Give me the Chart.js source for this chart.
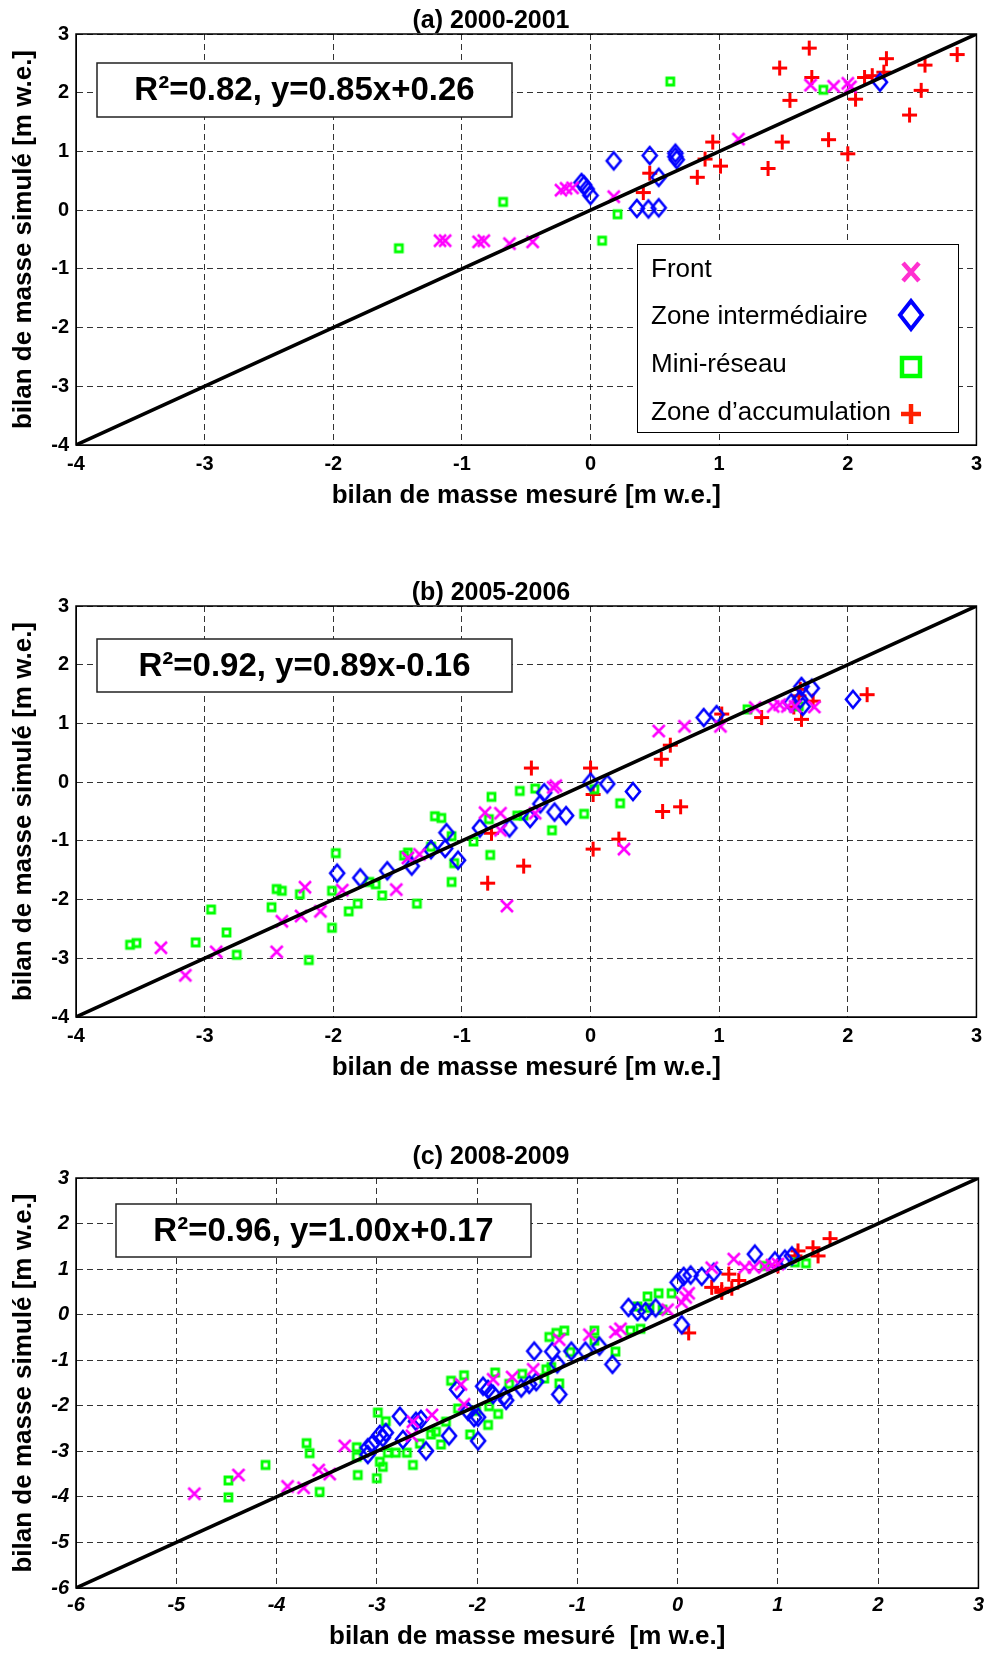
<!DOCTYPE html>
<html>
<head>
<meta charset="utf-8">
<script src="https://cdn.jsdelivr.net/npm/chart.js@4.4.1/dist/chart.umd.min.js"></script>
<style>
  body { margin: 0; background: #fff; width: 989px; height: 1654px; position: relative; overflow: hidden; }
  canvas { position: absolute; left: 0; }
</style>
</head>
<body>
<canvas id="chartA" width="989" height="520" style="top:0px"></canvas>
<canvas id="chartB" width="989" height="520" style="top:572px"></canvas>
<canvas id="chartC" width="989" height="524" style="top:1130px"></canvas>
<script>
// values: [mesuré, simulé] in m w.e.

// (a) 2000-2001
const frontA = [[-1.17,-0.52],[-1.13,-0.52],[-0.87,-0.54],[-0.83,-0.52],[-0.63,-0.57],[-0.45,-0.54],
  [-0.23,0.34],[-0.19,0.37],[-0.14,0.38],[0.18,0.23],[1.15,1.21],[1.71,2.13],[1.89,2.11],[2.0,2.16],[2.02,2.10]];
const interA = [[-0.07,0.47],[-0.05,0.43],[-0.03,0.36],[0.0,0.25],[0.18,0.84],[0.46,0.93],[0.66,0.97],
  [0.66,0.91],[0.67,0.86],[0.53,0.56],[0.36,0.03],[0.45,0.02],[0.53,0.04],[2.25,2.18]];
const miniA = [[-1.49,-0.65],[-0.68,0.14],[0.09,-0.52],[0.21,-0.07],[0.62,2.19],[1.81,2.05]];
const accA = [[0.41,0.30],[0.46,0.63],[0.83,0.56],[0.89,0.87],[0.95,1.16],[1.01,0.75],[1.38,0.71],
  [1.49,1.16],[1.47,2.42],[1.55,1.87],[1.70,2.76],[1.72,2.26],[1.85,1.20],[2.0,0.96],[2.06,1.89],
  [2.13,2.26],[2.19,2.29],[2.28,2.35],[2.30,2.58],[2.48,1.62],[2.57,2.04],[2.60,2.47],[2.85,2.65]];

// (b) 2005-2006
const frontB = [[-3.34,-2.82],[-3.15,-3.29],[-2.91,-2.89],[-2.44,-2.89],[-2.40,-2.37],[-2.25,-2.28],
  [-2.22,-1.79],[-2.10,-2.20],[-1.93,-1.84],[-1.51,-1.83],[-1.42,-1.29],[-1.33,-1.23],[-0.82,-0.52],
  [-0.70,-0.53],[-0.70,-0.82],[-0.43,-0.53],[-0.29,-0.09],[-0.27,-0.06],[-0.65,-2.11],[0.26,-1.14],
  [0.53,0.87],[0.73,0.95],[1.01,0.95],[1.28,1.27],[1.42,1.29],[1.47,1.32],[1.53,1.29],[1.59,1.29],[1.74,1.28]];
const interB = [[-1.97,-1.55],[-1.79,-1.63],[-1.58,-1.51],[-1.39,-1.43],[-1.24,-1.15],[-1.13,-1.13],
  [-1.12,-0.86],[-1.03,-1.33],[-0.86,-0.78],[-0.63,-0.78],[-0.47,-0.62],[-0.39,-0.37],[-0.36,-0.18],
  [-0.28,-0.51],[-0.19,-0.57],[0.0,0.0],[0.13,-0.03],[0.33,-0.16],[0.88,1.10],[0.98,1.15],[1.56,1.35],
  [1.63,1.41],[1.65,1.29],[1.64,1.63],[1.72,1.60],[2.04,1.41]];
const miniB = [[-3.58,-2.77],[-3.53,-2.74],[-3.07,-2.73],[-2.95,-2.17],[-2.83,-2.56],[-2.75,-2.94],
  [-2.48,-2.13],[-2.44,-1.82],[-2.40,-1.85],[-2.26,-1.91],[-2.19,-3.03],[-2.01,-1.85],[-2.01,-2.48],
  [-1.98,-1.21],[-1.88,-2.20],[-1.81,-2.07],[-1.72,-1.70],[-1.67,-1.74],[-1.62,-1.93],[-1.45,-1.25],
  [-1.42,-1.20],[-1.35,-2.07],[-1.24,-1.10],[-1.21,-0.58],[-1.16,-0.61],[-1.08,-0.92],[-1.06,-1.38],
  [-1.08,-1.70],[-0.91,-1.01],[-0.78,-1.24],[-0.77,-0.25],[-0.79,-0.63],[-0.55,-0.15],[-0.43,-0.11],
  [-0.57,-0.57],[-0.52,-0.57],[-0.30,-0.82],[-0.05,-0.54],[0.03,-0.12],[0.23,-0.36],[1.22,1.24],[1.62,1.29]];
const accB = [[-0.80,-1.72],[-0.77,-0.87],[-0.52,-1.43],[-0.46,0.24],[0.0,0.24],[0.02,-0.21],[0.02,-1.14],
  [0.22,-0.97],[0.55,0.39],[0.62,0.63],[0.56,-0.50],[0.70,-0.42],[1.02,1.16],[1.33,1.10],[1.58,1.28],
  [1.62,1.47],[1.63,1.58],[1.64,1.07],[1.73,1.38],[2.15,1.49]];

// (c) 2008-2009
const frontC = [[-4.82,-3.93],[-4.38,-3.52],[-3.89,-3.77],[-3.73,-3.80],[-3.58,-3.41],[-3.47,-3.50],
  [-3.32,-2.88],[-2.65,-2.66],[-2.64,-2.35],[-2.45,-2.20],[-2.16,-1.53],[-2.13,-1.97],[-1.84,-1.42],
  [-1.65,-1.37],[-1.44,-1.20],[-1.18,-0.55],[-0.88,-0.44],[-0.62,-0.38],[-0.57,-0.31],[-0.10,0.11],
  [0.04,0.27],[0.08,0.38],[0.11,0.47],[0.34,1.03],[0.56,1.22],[0.67,1.04],[0.76,1.04],[0.87,1.06],
  [0.94,1.09],[1.0,1.11]];
const interC = [[-3.09,-3.07],[-3.09,-2.92],[-3.05,-2.85],[-2.97,-2.63],[-2.94,-2.70],[-2.91,-2.59],
  [-2.77,-2.23],[-2.74,-2.74],[-2.61,-2.34],[-2.56,-2.30],[-2.51,-2.99],[-2.28,-2.66],[-2.20,-1.64],
  [-2.09,-2.12],[-2.03,-2.26],[-1.99,-2.77],[-1.99,-2.25],[-1.94,-1.57],[-1.89,-1.64],[-1.84,-1.75],
  [-1.73,-1.79],[-1.71,-1.88],[-1.56,-1.61],[-1.48,-1.53],[-1.41,-1.47],[-1.43,-0.80],[-1.25,-0.81],
  [-1.20,-1.08],[-1.18,-1.75],[-1.06,-0.80],[-0.92,-0.80],[-0.78,-0.69],[-0.65,-1.09],[-0.49,0.16],
  [-0.40,0.07],[-0.32,0.07],[-0.22,0.15],[0.04,-0.22],[0.0,0.71],[0.06,0.84],[0.13,0.87],[0.24,0.84],
  [0.36,0.93],[0.77,1.33],[0.97,1.18],[1.07,1.22],[1.14,1.29]];
const miniC = [[-4.48,-3.64],[-4.48,-4.01],[-4.11,-3.30],[-3.70,-2.82],[-3.67,-3.04],[-3.57,-3.89],
  [-3.20,-2.91],[-3.20,-3.12],[-3.19,-3.52],[-3.00,-3.59],[-2.99,-2.15],[-2.91,-2.34],[-2.97,-3.23],
  [-2.94,-3.34],[-2.89,-3.03],[-2.81,-3.03],[-2.70,-3.03],[-2.64,-3.30],[-2.57,-2.83],[-2.46,-2.63],
  [-2.41,-2.57],[-2.36,-2.85],[-2.31,-2.35],[-2.26,-1.45],[-2.13,-1.33],[-2.19,-2.06],[-2.07,-2.63],
  [-2.01,-2.11],[-1.89,-2.42],[-1.88,-2.01],[-1.79,-2.18],[-1.68,-1.52],[-1.55,-1.30],[-1.82,-1.27],
  [-1.31,-1.20],[-1.26,-1.15],[-1.33,-1.40],[-1.18,-1.51],[-1.28,-0.49],[-1.21,-0.40],[-1.13,-0.35],
  [-1.07,-0.82],[-0.83,-0.35],[-0.83,-0.57],[-0.62,-0.81],[-0.47,-0.35],[-0.37,-0.31],[-0.40,0.18],
  [-0.30,0.40],[-0.19,0.47],[-0.06,0.47],[-0.28,0.15],[-0.15,0.11],[0.87,1.07],[1.17,1.15],[1.28,1.13]];
const accC = [[0.11,-0.40],[0.34,0.60],[0.44,0.55],[0.54,0.58],[0.51,0.89],[0.61,0.75],[0.44,0.49],
  [1.0,1.07],[1.17,1.29],[1.20,1.40],[1.35,1.47],[1.40,1.29],[1.52,1.67]];

const seriesNames = ['Front', 'Zone intermédiaire', 'Mini-réseau', 'Zone d\u2019accumulation'];
const titles = ['(a) 2000-2001', '(b) 2005-2006', '(c) 2008-2009'];
const fits = ['R²=0.82, y=0.85x+0.26', 'R²=0.92, y=0.89x-0.16', 'R²=0.96, y=1.00x+0.17'];
const axisMin = [-4, -4, -6];
const axisMax = 3;

const FONT = '"Liberation Sans", Arial, Helvetica, sans-serif';
Chart.defaults.font.family = FONT;
Chart.defaults.color = '#000';

// marker images in the style of the matlab symbols
function marker(kind, w, h, lw, color) {
  const c = document.createElement('canvas');
  const pad = Math.ceil(lw);
  c.width = w + pad * 2;
  c.height = h + pad * 2;
  const g = c.getContext('2d');
  g.strokeStyle = color;
  g.lineWidth = lw;
  const x0 = pad, y0 = pad, x1 = pad + w, y1 = pad + h;
  const cx = c.width / 2, cy = c.height / 2;
  g.beginPath();
  if (kind === 'x') {
    g.moveTo(x0, y0); g.lineTo(x1, y1); g.moveTo(x1, y0); g.lineTo(x0, y1);
  } else if (kind === 'plus') {
    g.moveTo(cx, y0); g.lineTo(cx, y1); g.moveTo(x0, cy); g.lineTo(x1, cy);
  } else if (kind === 'diamond') {
    g.moveTo(cx, y0); g.lineTo(x1, cy); g.lineTo(cx, y1); g.lineTo(x0, cy); g.closePath();
  } else {
    g.rect(x0, y0, w, h);
  }
  g.stroke();
  return c;
}

const markers = [
  marker('x', 12, 12, 2.6, '#ff00ff'),
  marker('diamond', 14, 17, 2.6, '#0000ff'),
  marker('square', 7, 7, 2.8, '#00ff00'),
  marker('plus', 15, 15, 3, '#ff0000')
];
const legendMarkers = [
  marker('x', 16, 18, 4.5, '#ff30d0'),
  marker('diamond', 22, 28, 4, '#0000ff'),
  marker('square', 18, 18, 4.5, '#00ff00'),
  marker('plus', 20, 20, 4.5, '#ff2000')
];

const toXY = arr => arr.map(p => ({ x: p[0], y: p[1] }));

function makePanel(id, idx, series, layout) {
  const min = axisMin[idx];
  const tickFont = { size: 20, weight: 'bold', style: layout.italic ? 'italic' : 'normal' };

  const overlay = {
    id: 'overlay' + idx,
    beforeDatasetsDraw(chart) {
      const ctx = chart.ctx;
      const b = layout.box;
      ctx.save();
      ctx.fillStyle = '#fff';
      ctx.fillRect(b[0], b[1], b[2] - b[0], b[3] - b[1]);
      ctx.strokeStyle = '#222';
      ctx.lineWidth = 1.5;
      ctx.strokeRect(b[0], b[1], b[2] - b[0], b[3] - b[1]);
      ctx.fillStyle = '#000';
      ctx.font = 'bold 33px ' + FONT;
      ctx.textAlign = 'center';
      ctx.textBaseline = 'middle';
      ctx.fillText(fits[idx], (b[0] + b[2]) / 2, (b[1] + b[3]) / 2 + 1);
      ctx.restore();
    },
    afterDraw(chart) {
      const ctx = chart.ctx;
      const a = chart.chartArea;
      ctx.save();
      ctx.strokeStyle = '#000';
      ctx.lineWidth = 1.5;
      ctx.strokeRect(a.left, a.top, a.right - a.left, a.bottom - a.top);
      if (layout.legend) {
        const L = layout.legend;
        ctx.fillStyle = '#fff';
        ctx.fillRect(L.x0, L.y0, L.x1 - L.x0, L.y1 - L.y0);
        ctx.lineWidth = 1;
        ctx.strokeRect(L.x0 + 0.5, L.y0 + 0.5, L.x1 - L.x0, L.y1 - L.y0);
        ctx.fillStyle = '#000';
        ctx.font = '26px ' + FONT;
        ctx.textAlign = 'left';
        ctx.textBaseline = 'middle';
        seriesNames.forEach((name, i) => {
          ctx.fillText(name, L.textX, L.rows[i]);
          const m = legendMarkers[i];
          ctx.drawImage(m, L.markX - m.width / 2, L.markRows[i] - m.height / 2);
        });
      }
      ctx.restore();
    }
  };

  const datasets = [
    {
      data: [{ x: min, y: min }, { x: axisMax, y: axisMax }],
      showLine: true, borderColor: '#000', borderWidth: 3.5, pointRadius: 0
    }
  ];
  series.forEach((s, i) => {
    datasets.push({ label: seriesNames[i], data: toXY(s), pointStyle: markers[i], pointRadius: 6 });
  });

  return new Chart(document.getElementById(id), {
    type: 'scatter',
    data: { datasets: datasets },
    plugins: [overlay],
    options: {
      responsive: false,
      animation: false,
      events: [],
      layout: { padding: { left: 0, right: 7, top: 0, bottom: 0 } },
      plugins: {
        legend: { display: false },
        tooltip: { enabled: false },
        title: {
          display: true,
          text: titles[idx],
          color: '#000',
          font: { size: 25, weight: 'bold', lineHeight: 1 },
          padding: layout.titlePad
        }
      },
      scales: {
        x: {
          type: 'linear', min: min, max: axisMax,
          ticks: { stepSize: 1, font: tickFont, color: '#000', padding: layout.xTickPad, maxRotation: 0 },
          grid: { color: 'rgba(0,0,0,0.8)', lineWidth: 1, drawTicks: false },
          border: { display: true, color: '#000', width: 1, dash: [6, 4] },
          title: {
            display: true, text: layout.xTitle, color: '#000',
            font: { size: 26, weight: 'bold', lineHeight: 1 },
            padding: { top: 0, bottom: layout.xTitleBottom }
          },
          afterFit: s => { s.height = layout.xHeight; }
        },
        y: {
          type: 'linear', min: min, max: axisMax,
          ticks: { stepSize: 1, font: tickFont, color: '#000', padding: 7 },
          grid: { color: 'rgba(0,0,0,0.8)', lineWidth: 1, drawTicks: false },
          border: { display: true, color: '#000', width: 1, dash: [6, 4] },
          title: {
            display: true, text: 'bilan de masse simulé [m w.e.]', color: '#000',
            font: { size: 26, weight: 'bold', lineHeight: 1 },
            padding: { top: 11, bottom: 0 }
          },
          afterFit: s => { s.width = 76; }
        }
      }
    }
  });
}

makePanel('chartA', 0, [frontA, interA, miniA, accA], {
  titlePad: { top: 9, bottom: 0 },
  xTitle: 'bilan de masse mesuré [m w.e.]', xTitleBottom: 11, xHeight: 75, xTickPad: 7,
  box: [97, 63, 512, 117],
  legend: { x0: 637, y0: 244, x1: 958, y1: 432, textX: 651, rows: [270, 317, 365, 413],
            markX: 911, markRows: [272, 315, 367, 414] }
});
makePanel('chartB', 1, [frontB, interB, miniB, accB], {
  titlePad: { top: 9, bottom: 0 },
  xTitle: 'bilan de masse mesuré [m w.e.]', xTitleBottom: 11, xHeight: 75, xTickPad: 7,
  box: [97, 67, 512, 120]
});
makePanel('chartC', 2, [frontC, interC, miniC, accC], {
  italic: true,
  titlePad: { top: 15, bottom: 8 },
  xTitle: 'bilan de masse mesuré  [m w.e.]', xTitleBottom: 4, xHeight: 66, xTickPad: 5,
  box: [116, 74, 531, 127]
});
</script>
</body>
</html>
